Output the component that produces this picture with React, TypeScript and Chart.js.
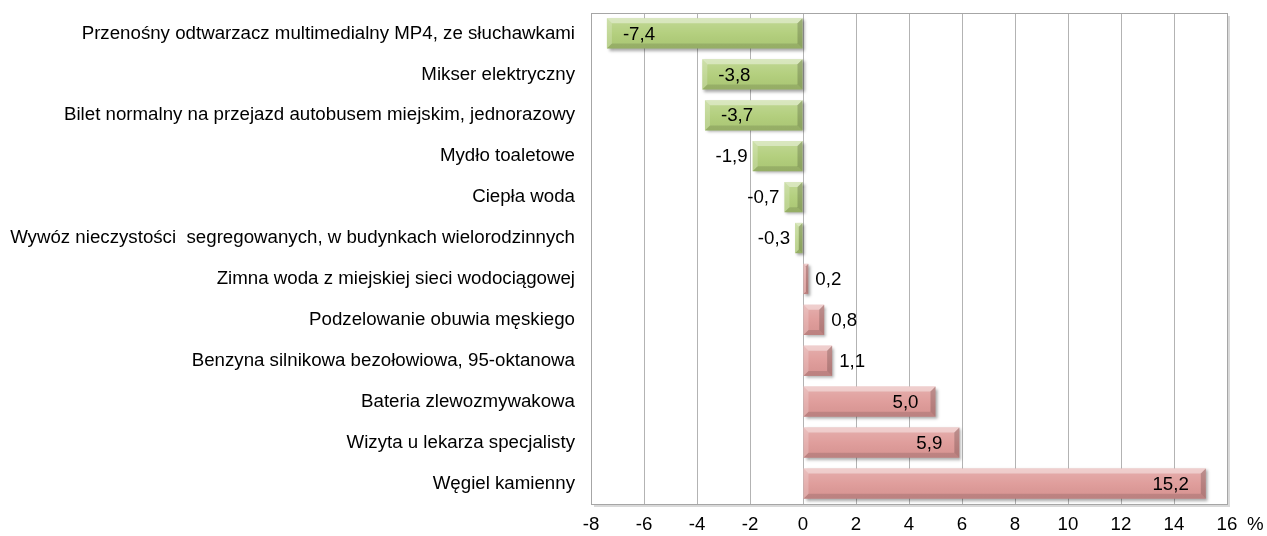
import React, { useEffect, useRef } from "react";
import { Chart, registerables } from "chart.js";

Chart.register(...registerables);

const categories = [
  "Przenośny odtwarzacz multimedialny MP4, ze słuchawkami",
  "Mikser elektryczny",
  "Bilet normalny na przejazd autobusem miejskim, jednorazowy",
  "Mydło toaletowe",
  "Ciepła woda",
  "Wywóz nieczystości  segregowanych, w budynkach wielorodzinnych",
  "Zimna woda z miejskiej sieci wodociągowej",
  "Podzelowanie obuwia męskiego",
  "Benzyna silnikowa bezołowiowa, 95-oktanowa",
  "Bateria zlewozmywakowa",
  "Wizyta u lekarza specjalisty",
  "Węgiel kamienny",
];
const values = [-7.4, -3.8, -3.7, -1.9, -0.7, -0.3, 0.2, 0.8, 1.1, 5.0, 5.9, 15.2];
const xMin = -8;
const xMax = 16;
const xStep = 2;
const unitLabel = "%";

const FONT = "'Liberation Sans', Arial, sans-serif";
const FS = 18.7;
const GREEN = "#B0CD78";
const RED = "#DE9997";

const fmt = (v: number) => v.toFixed(1).replace(".", ",");

const decorPlugin = {
  id: "decor",
  beforeDatasetsDraw(chart: any) {
    const ctx = chart.ctx;
    ctx.save();
    ctx.shadowColor = "rgba(0,0,0,0.35)";
    ctx.shadowOffsetX = 2;
    ctx.shadowOffsetY = 2;
    ctx.shadowBlur = 3;
  },
  afterDatasetsDraw(chart: any) {
    const ctx = chart.ctx;
    ctx.restore();
    const meta = chart.getDatasetMeta(0);
    const ds = chart.data.datasets[0];
    meta.data.forEach((el: any, i: number) => {
      const p = el.getProps(["x", "y", "base", "height"], true);
      const l = Math.min(p.x, p.base);
      const r = Math.max(p.x, p.base);
      const t = p.y - p.height / 2;
      const b = p.y + p.height / 2;
      const w = r - l;
      const bv = Math.min(5, w / 2, p.height / 2);
      ctx.save();
      const g = ctx.createLinearGradient(0, t, 0, b);
      g.addColorStop(0, "rgba(255,255,255,0.22)");
      g.addColorStop(0.5, "rgba(255,255,255,0.05)");
      g.addColorStop(1, "rgba(0,0,0,0.03)");
      ctx.fillStyle = g;
      ctx.fillRect(l, t, w, p.height);
      const poly = (pts: number[][], color: string) => {
        ctx.beginPath();
        ctx.moveTo(pts[0][0], pts[0][1]);
        for (let k = 1; k < pts.length; k++) ctx.lineTo(pts[k][0], pts[k][1]);
        ctx.closePath();
        ctx.fillStyle = color;
        ctx.fill();
      };
      poly([[l, t], [r, t], [r - bv, t + bv], [l + bv, t + bv]], "rgba(255,255,255,0.4)");
      poly([[l, t], [l + bv, t + bv], [l + bv, b - bv], [l, b]], "rgba(255,255,255,0.2)");
      poly([[l, b], [l + bv, b - bv], [r - bv, b - bv], [r, b]], "rgba(0,0,0,0.12)");
      poly([[r, t], [r, b], [r - bv, b - bv], [r - bv, t + bv]], "rgba(0,0,0,0.18)");
      ctx.restore();

      const v = ds.data[i];
      const txt = fmt(v);
      ctx.save();
      ctx.font = `${FS}px ${FONT}`;
      ctx.fillStyle = "#000";
      ctx.textBaseline = "middle";
      const inside = w > 60;
      if (v < 0) {
        if (inside) {
          ctx.textAlign = "left";
          ctx.fillText(txt, l + 16, p.y + 1);
        } else {
          ctx.textAlign = "right";
          ctx.fillText(txt, l - 5, p.y + 1);
        }
      } else {
        if (inside) {
          ctx.textAlign = "right";
          ctx.fillText(txt, r - 17, p.y + 1);
        } else {
          ctx.textAlign = "left";
          ctx.fillText(txt, r + 7, p.y + 1);
        }
      }
      ctx.restore();
    });
  },
  afterDraw(chart: any) {
    const ctx = chart.ctx;
    const a = chart.chartArea;
    ctx.save();
    ctx.strokeStyle = "#D9D9D9";
    ctx.lineWidth = 2;
    ctx.beginPath();
    ctx.moveTo(a.left + 3, a.bottom + 2);
    ctx.lineTo(a.right + 2, a.bottom + 2);
    ctx.lineTo(a.right + 2, a.top + 3);
    ctx.stroke();
    ctx.strokeStyle = "#A6A6A6";
    ctx.lineWidth = 1;
    ctx.strokeRect(Math.round(a.left) + 0.5, Math.round(a.top) + 0.5, Math.round(a.right - a.left), Math.round(a.bottom - a.top));
    ctx.font = `${FS}px ${FONT}`;
    ctx.fillStyle = "#000";
    ctx.textAlign = "left";
    ctx.textBaseline = "middle";
    ctx.fillText(unitLabel, a.right + 20, a.bottom + 21);
    ctx.restore();
  },
};

export default function App() {
  const ref = useRef<HTMLCanvasElement | null>(null);
  useEffect(() => {
    if (!ref.current) return;
    const chart = new Chart(ref.current, {
      type: "bar",
      data: {
        labels: categories,
        datasets: [
          {
            data: values,
            backgroundColor: values.map((v) => (v < 0 ? GREEN : RED)),
            borderWidth: 0,
            barPercentage: 0.74,
            categoryPercentage: 1,
          },
        ],
      },
      options: {
        indexAxis: "y",
        animation: false,
        responsive: true,
        maintainAspectRatio: false,
        layout: { padding: { top: 13, right: 40, left: 0, bottom: 0 } },
        plugins: { legend: { display: false }, tooltip: { enabled: false } },
        scales: {
          x: {
            min: xMin,
            max: xMax,
            ticks: {
              stepSize: xStep,
              color: "#000",
              font: { family: FONT, size: FS },
              padding: 10,
              maxRotation: 0,
            },
            grid: { color: "#B3B3B3", lineWidth: 1, drawTicks: false },
            border: { display: false },
            afterFit: (s: any) => {
              s.height = 32;
            },
          },
          y: {
            ticks: {
              color: "#000",
              font: { family: FONT, size: FS },
              padding: 16,
              autoSkip: false,
            },
            grid: { display: false, drawTicks: false },
            border: { display: false },
            afterFit: (s: any) => {
              s.width = 591;
              s.paddingTop = 0;
              s.paddingBottom = 0;
            },
          },
        },
      },
      plugins: [decorPlugin],
    });
    return () => chart.destroy();
  }, []);
  return (
    <div style={{ position: "fixed", left: 0, top: 0, width: 1267, height: 536, background: "#fff" }}>
      <canvas ref={ref} />
    </div>
  );
}
